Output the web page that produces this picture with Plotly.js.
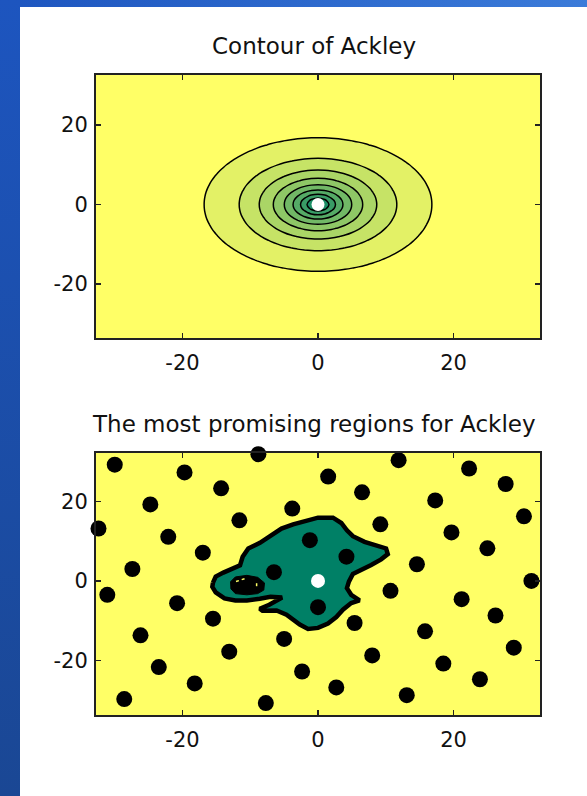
<!DOCTYPE html>
<html><head><meta charset="utf-8">
<script src="https://cdn.plot.ly/plotly-3.0.1.min.js"></script>
<style>
html,body{margin:0;padding:0;width:587px;height:796px;overflow:hidden;background:#fff}
#topband{position:absolute;left:0;top:0;width:587px;height:7px;background:linear-gradient(to right,#1d55bf,#3b7bd9)}
#leftband{position:absolute;left:0;top:0;width:20px;height:796px;background:linear-gradient(to bottom,#1d55bf,#1a4794)}
#chart{position:absolute;left:20px;top:7px;width:567px;height:789px}
</style></head><body>
<div id="topband"></div><div id="leftband"></div><div id="chart"></div>
<script>
// ---- data ----
var gridStart = -34, gridEnd = 34;           // integer sampling grid of the Ackley surface
var levelStart = 2.06, levelEnd = 18.14, levelStep = 2.01;
var tickValues = [-20, 0, 20];
var tickLabels = ['-20', '0', '20'];

// sample points (black dots) in the lower panel
var sampleX = [-30.0, -8.8, -19.7, 11.9, 22.3, 1.5, -14.3, 6.5, 27.7, -24.75, -3.8, 17.3, 30.4, -32.4, -11.6, 9.2,
  -22.1, -1.2, 19.7, -17.0, 4.2, 25.0, -27.4, -6.5, 14.6, 31.5, -31.1, 10.7, 21.2, -20.8, 0.0, -15.5, 5.4, 26.2,
  -26.2, -5.0, 15.8, -13.1, 8.0, 28.9, -23.5, -2.35, 18.5, -18.2, 2.7, 23.9, -28.6, -7.7, 13.1];
var sampleY = [29.25, 31.9, 27.3, 30.4, 28.3, 26.25, 23.3, 22.3, 24.4, 19.25, 18.2, 20.25, 16.25, 13.2, 15.25, 14.25,
  11.1, 10.25, 12.2, 7.1, 6.1, 8.2, 3.0, 2.2, 4.2, 0.0, -3.5, -2.5, -4.6, -5.6, -6.6, -9.5, -10.6, -8.7,
  -13.7, -14.6, -12.7, -17.8, -18.75, -16.8, -21.7, -22.8, -20.8, -25.8, -26.8, -24.75, -29.75, -30.75, -28.75];

// outline of the most promising region
var regionX = [-15.5, -15.1, -13.97, -12.74, -11.51, -11.12, -10.29, -8.57, -6.61, -5.39, -3.67, -1.71, 0.0, 2.21,
  3.44, 4.27, 5.15, 6.87, 8.83, 10.05, 10.30, 9.32, 7.85, 6.38, 5.15, 4.56, 4.27, 4.90, 6.13, 4.90, 3.68, 2.70,
  1.47, 0.0, -1.47, -2.69, -3.67, -4.65, -6.12, -8.2, -8.6, -7.2, -5.3, -7.0, -8.6, -10.5, -12.2,
  -13.8, -15.1, -15.6, -15.5];
var regionY = [-0.42, 1.1, 2.1, 3.1, 3.9, 6.08, 8.17, 9.58, 11.92, 13.17, 14.25, 15.08, 15.92, 15.92,
  14.58, 12.75, 11.25, 9.83, 8.75, 8.17, 6.75, 5.42, 4.0, 2.75, 1.75, -0.17, -1.83, -3.5, -4.92, -5.58, -7.25, -9.08,
  -10.75, -11.83, -12.08, -11.0, -9.75, -8.5, -7.42, -7.5, -7.0, -6.0, -4.2, -4.0, -4.5, -4.9, -4.9,
  -4.4, -2.9, -1.5, -0.42];

// inner dark island in the left lobe
var islandX = [-12.9, -12.2, -10.5, -8.9, -7.9, -8.0, -8.9, -10.5, -12.2, -12.85, -12.9];
var islandY = [-0.2, 1.0, 1.4, 0.9, -0.5, -2.3, -3.2, -3.5, -3.2, -2.0, -0.2];
var speckX = [-12.1, -10.78, null, -9.06, -9.06];
var speckY = [-0.17, 0.6, null, -0.58, -2.0];

var optimumX = [0], optimumY = [0];

// ---- Ackley surface on the grid ----
function ackley(x, y) {
  var a = 20, b = 0.2, c = 2 * Math.PI;
  return -a * Math.exp(-b * Math.sqrt(0.5 * (x * x + y * y)))
         - Math.exp(0.5 * (Math.cos(c * x) + Math.cos(c * y))) + a + Math.E;
}
var gx = [];
for (var g = gridStart; g <= gridEnd; g++) gx.push(g);
var gz = gx.map(function (yy) { return gx.map(function (xx) { return ackley(xx, yy); }); });

var summer = [[0, 'rgb(0,128,102)'], [1, 'rgb(255,255,102)']];
var green = 'rgb(0,128,102)';
var yellow = 'rgb(255,255,102)';

var traces = [
  { type: 'contour', x: gx, y: gx, z: gz, xaxis: 'x', yaxis: 'y',
    contours: { start: levelStart, end: levelEnd, size: levelStep, coloring: 'fill' },
    line: { color: '#000', width: 1.5, smoothing: 1 },
    colorscale: summer, showscale: false, hoverinfo: 'skip' },
  { type: 'scatter', mode: 'markers', x: optimumX, y: optimumY, xaxis: 'x', yaxis: 'y',
    marker: { color: '#fff', size: 13 }, hoverinfo: 'skip' },

  { type: 'scatter', mode: 'lines', x: regionX, y: regionY, xaxis: 'x2', yaxis: 'y2',
    fill: 'toself', fillcolor: green, line: { color: '#000', width: 4.5 }, hoverinfo: 'skip' },
  { type: 'scatter', mode: 'lines', x: islandX, y: islandY, xaxis: 'x2', yaxis: 'y2',
    fill: 'toself', fillcolor: '#000', line: { color: '#000', width: 1 }, hoverinfo: 'skip' },
  { type: 'scatter', mode: 'lines', x: speckX, y: speckY, xaxis: 'x2', yaxis: 'y2',
    line: { color: yellow, width: 1.5, dash: 'dot' }, hoverinfo: 'skip' },
  { type: 'scatter', mode: 'markers', x: sampleX, y: sampleY, xaxis: 'x2', yaxis: 'y2',
    marker: { color: '#000', size: 16 }, cliponaxis: false, hoverinfo: 'skip' },
  { type: 'scatter', mode: 'markers', x: optimumX, y: optimumY, xaxis: 'x2', yaxis: 'y2',
    marker: { color: '#fff', size: 14 }, cliponaxis: false, hoverinfo: 'skip' }
];

var tickFont = { family: 'DejaVu Sans', size: 21, color: '#111' };
var titleFont = { family: 'DejaVu Sans', size: 23, color: '#111' };
function axis(extra) {
  var a = { tickvals: tickValues, ticktext: tickLabels, ticks: 'inside', ticklen: 5, tickwidth: 1.5,
    tickcolor: '#222', showline: true, linecolor: '#222', linewidth: 2, mirror: 'ticks',
    showgrid: false, zeroline: false, tickfont: tickFont, fixedrange: true };
  for (var k in extra) a[k] = extra[k];
  return a;
}

var layout = {
  width: 567, height: 789,
  margin: { l: 76, r: 47, t: 68, b: 81 },
  paper_bgcolor: '#fff', plot_bgcolor: yellow,
  showlegend: false, hovermode: false,
  xaxis: axis({ domain: [0, 1], anchor: 'y', range: [-32.768, 32.768], ticklabelstandoff: 5 }),
  yaxis: axis({ domain: [0.5891, 1], anchor: 'x', range: [-33.6, 32.6], ticklabelstandoff: 2 }),
  xaxis2: axis({ domain: [0, 1], anchor: 'y2', range: [-32.768, 32.768], ticklabelstandoff: 5 }),
  yaxis2: axis({ domain: [0, 0.4094], anchor: 'x2', range: [-33.75, 32.2], ticklabelstandoff: 2 }),
  annotations: [
    { text: 'Contour of Ackley', xref: 'paper', yref: 'paper', x: 0.49, y: 1.0453,
      xanchor: 'center', yanchor: 'middle', showarrow: false, font: titleFont },
    { text: 'The most promising regions for Ackley', xref: 'paper', yref: 'paper', x: 0.49, y: 0.4547,
      xanchor: 'center', yanchor: 'middle', showarrow: false, font: titleFont }
  ]
};

Plotly.newPlot('chart', traces, layout, { displayModeBar: false, staticPlot: true });
</script></body></html>
